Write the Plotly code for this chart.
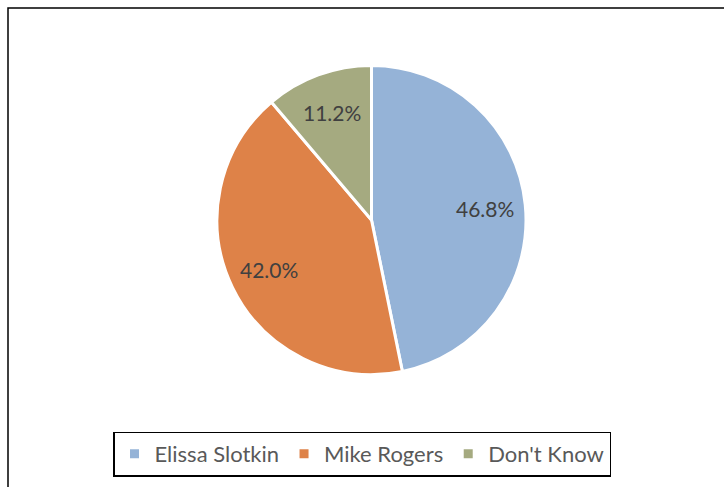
import math
import plotly.graph_objects as go

# Survey result: vote share by candidate
candidates = ["Elissa Slotkin", "Mike Rogers", "Don't Know"]
shares = [46.8, 42.0, 11.2]
slice_colors = ["#95B3D7", "#DE8248", "#A5AA80"]

W, H = 724, 487

# Pie placement (pixels)
cx, cy, radius = 371.5, 220.0, 154.5
dom_x = [(cx - radius) / W, (cx + radius) / W]
dom_y = [(H - cy - radius) / H, (H - cy + radius) / H]

fig = go.Figure(
    go.Pie(
        labels=candidates,
        values=shares,
        sort=False,
        direction="clockwise",
        rotation=0,
        marker=dict(colors=slice_colors, line=dict(color="white", width=3)),
        textinfo="none",
        hoverinfo="label+value",
        domain=dict(x=dom_x, y=dom_y),
    )
)

# Data labels placed at the middle angle of each slice
total = sum(shares)
cum = 0.0
for v in shares:
    mid = (cum + v / 2) / total * 2 * math.pi  # clockwise from 12 o'clock
    cum += v
    r = 0.74 * radius
    px = cx + r * math.sin(mid)
    py = cy - r * math.cos(mid)
    fig.add_annotation(
        x=px / W, y=(H - py) / H, xref="paper", yref="paper",
        text=f"{v:.1f}%", showarrow=False,
        xanchor="center", yanchor="middle",
        font=dict(family="Lato", size=21, color="#404040"),
    )

# Outer frame around the chart area
fig.add_shape(
    type="rect", xref="paper", yref="paper",
    x0=8 / W, x1=1.02, y0=-0.02, y1=1 - 8 / H,
    line=dict(color="black", width=1.5), fillcolor="rgba(0,0,0,0)",
)

fig.update_layout(
    width=W, height=H,
    margin=dict(l=0, r=0, t=0, b=0),
    paper_bgcolor="white",
    plot_bgcolor="white",
    showlegend=True,
    legend=dict(
        orientation="h",
        x=0.5, xanchor="center",
        y=(H - 454) / H, yanchor="middle",
        font=dict(family="Lato", size=22, color="#595959"),
        bordercolor="black", borderwidth=1.5,
        itemclick=False,
    ),
)

fig.write_html("out.html")
